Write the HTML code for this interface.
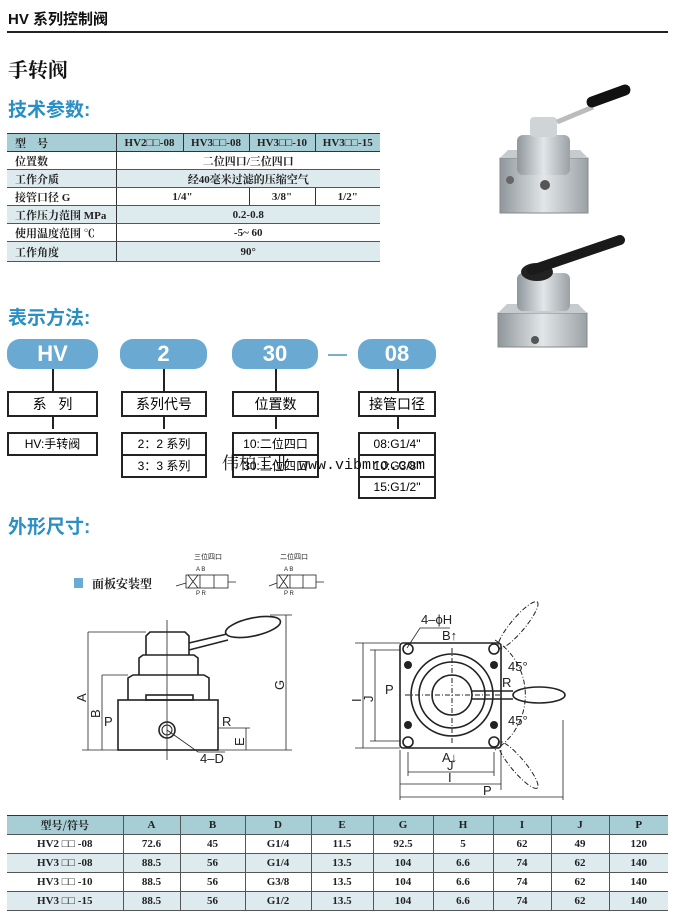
<!DOCTYPE html>
<html><head><meta charset="utf-8"><style>
body{margin:0;width:676px;height:919px;background:#fff;position:relative;overflow:hidden;font-family:"Liberation Sans","Noto Sans CJK SC",sans-serif;}
.a{position:absolute;}
table{border-collapse:collapse;position:absolute;font-family:"Liberation Serif","Noto Serif CJK SC",serif;font-weight:bold;font-size:11px;color:#222;}
td{padding:0;text-align:center;}
.t1 td{border-left:1px solid #333;height:17px;border-bottom:1px solid #555;}
.t1 td:first-child{border-left:none;text-align:left;padding-left:8px;}
.hd td{background:#a7cdd5;border-top:1px solid #333;border-bottom:1px solid #333;}
.sh td{background:#deebee;}
.pill{position:absolute;background:#6aa9d1;border-radius:13px;color:#fff;font-weight:bold;font-size:22px;text-align:center;line-height:30px;height:30px;}
.bx{position:absolute;border:2px solid #222;background:#fff;text-align:center;font-size:14px;box-sizing:border-box;}
.vl{position:absolute;width:1.5px;background:#222;}
.t2 td{border-left:1px solid #555;height:18px;border-bottom:1px solid #555;}
.t2 td:first-child{border-left:none;}
</style></head><body>
<div class="a" style="left:8px;top:8px;font-size:15px;font-weight:bold;color:#111;">HV 系列控制阀</div>
<div class="a" style="left:7px;top:31px;width:661px;height:1.5px;background:#222;"></div>
<div class="a" style="left:8px;top:54px;font-size:20px;font-weight:bold;font-family:'Noto Serif CJK SC',serif;color:#111;">手转阀</div>
<div class="a" style="left:8px;top:95px;font-size:19px;font-weight:bold;color:#2a8fc4;">技术参数:</div>

<table class="t1" style="left:7px;top:133px;width:373px;">
<colgroup><col style="width:109px"><col style="width:67px"><col style="width:66px"><col style="width:66px"><col style="width:65px"></colgroup>
<tr class="hd"><td>型&nbsp;&nbsp;&nbsp;&nbsp;号</td><td>HV2□□-08</td><td>HV3□□-08</td><td>HV3□□-10</td><td>HV3□□-15</td></tr>
<tr><td>位置数</td><td colspan="4">二位四口/三位四口</td></tr>
<tr class="sh"><td>工作介质</td><td colspan="4">经40毫米过滤的压缩空气</td></tr>
<tr><td>接管口径 G</td><td colspan="2">1/4"</td><td>3/8"</td><td>1/2"</td></tr>
<tr class="sh"><td>工作压力范围 MPa</td><td colspan="4">0.2-0.8</td></tr>
<tr><td>使用温度范围 ℃</td><td colspan="4">-5~ 60</td></tr>
<tr class="sh"><td style="height:19px">工作角度</td><td colspan="4">90°</td></tr>
</table>

<svg class="a" style="left:470px;top:80px" width="180" height="270">
<defs><linearGradient id="m" x1="0" x2="1"><stop offset="0" stop-color="#8f979c"/><stop offset=".5" stop-color="#e2e6e8"/><stop offset="1" stop-color="#9aa1a5"/></linearGradient></defs>
<polygon points="30,78 118,78 118,133 30,133" fill="url(#m)" stroke="#888"/>
<polygon points="30,78 118,78 110,70 38,70" fill="#c6cbce"/>
<rect x="47" y="55" width="53" height="40" rx="6" fill="url(#m)"/>
<rect x="60" y="37" width="27" height="20" rx="4" fill="#cfd4d6"/>
<line x1="87" y1="42" x2="123" y2="27" stroke="#bbb" stroke-width="5"/>
<line x1="122" y1="22" x2="155" y2="10" stroke="#111" stroke-width="11" stroke-linecap="round"/>
<circle cx="75" cy="105" r="5" fill="#555"/><circle cx="40" cy="100" r="4" fill="#666"/>
<polygon points="28,233 117,233 117,267 28,267" fill="url(#m)" stroke="#888"/>
<polygon points="28,233 117,233 108,224 37,224" fill="#c6cbce"/>
<rect x="47" y="193" width="53" height="38" rx="6" fill="url(#m)"/>
<ellipse cx="67" cy="192" rx="16" ry="9" fill="#222"/>
<line x1="62" y1="190" x2="150" y2="160" stroke="#1a1a1a" stroke-width="10" stroke-linecap="round"/>
<circle cx="65" cy="260" r="4" fill="#555"/>
</svg>

<div class="a" style="left:8px;top:303px;font-size:19px;font-weight:bold;color:#2a8fc4;">表示方法:</div>
<div class="pill" style="left:7px;top:339px;width:91px;">HV</div>
<div class="pill" style="left:120px;top:339px;width:87px;">2</div>
<div class="pill" style="left:232px;top:339px;width:86px;">30</div>
<div class="a" style="left:328px;top:354px;width:19px;height:1.5px;background:#7aaed0;"></div>
<div class="pill" style="left:358px;top:339px;width:78px;">08</div>
<div class="vl" style="left:52px;top:369px;height:60px;"></div>
<div class="vl" style="left:163px;top:369px;height:60px;"></div>
<div class="vl" style="left:275px;top:369px;height:60px;"></div>
<div class="vl" style="left:397px;top:369px;height:60px;"></div>
<div class="bx" style="left:7px;top:391px;width:91px;height:26px;line-height:22px;">系&nbsp;&nbsp;&nbsp;列</div>
<div class="bx" style="left:121px;top:391px;width:86px;height:26px;line-height:22px;">系列代号</div>
<div class="bx" style="left:232px;top:391px;width:87px;height:26px;line-height:22px;">位置数</div>
<div class="bx" style="left:358px;top:391px;width:78px;height:26px;line-height:22px;">接管口径</div>
<div class="bx" style="left:7px;top:432px;width:91px;height:24px;line-height:20px;font-size:12px;">HV:手转阀</div>
<div class="bx" style="left:121px;top:432px;width:86px;height:24px;line-height:20px;font-size:12px;">2：2 系列</div>
<div class="bx" style="left:121px;top:454px;width:86px;height:24px;line-height:20px;font-size:12px;">3：3 系列</div>
<div class="bx" style="left:232px;top:432px;width:87px;height:24px;line-height:20px;font-size:12px;">10:二位四口</div>
<div class="bx" style="left:232px;top:454px;width:87px;height:24px;line-height:20px;font-size:12px;">30:三位四口</div>
<div class="bx" style="left:358px;top:432px;width:78px;height:24px;line-height:20px;font-size:12px;">08:G1/4"</div>
<div class="bx" style="left:358px;top:454px;width:78px;height:24px;line-height:20px;font-size:12px;">10:G3/8"</div>
<div class="bx" style="left:358px;top:476px;width:78px;height:23px;line-height:19px;font-size:12px;">15:G1/2"</div>
<div class="a" style="left:222px;top:449px;font-size:17px;font-family:'Noto Serif CJK SC',serif;color:#111;">伟柏工业<span style="font-family:'Liberation Mono',monospace;font-size:15px;"> www.vibmro.com</span></div>

<div class="a" style="left:8px;top:512px;font-size:19px;font-weight:bold;color:#2a8fc4;">外形尺寸:</div>

<svg class="a" style="left:0;top:540px" width="676" height="270" font-family="Liberation Sans" stroke="#222" fill="none">
<g transform="translate(0,-540)">
<rect x="74" y="578" width="9" height="10" fill="#6aaad4" stroke="none"/>
<text x="92" y="588" font-size="12" font-weight="bold" fill="#222" stroke="none" font-family="Noto Serif CJK SC">面板安装型</text>
<text x="194" y="559" font-size="7" fill="#222" stroke="none" font-family="Noto Sans CJK SC">三位四口</text>
<text x="280" y="559" font-size="7" fill="#222" stroke="none" font-family="Noto Sans CJK SC">二位四口</text>
<g stroke-width="0.8"><rect x="186" y="575" width="42" height="13"/><line x1="200" y1="575" x2="200" y2="588"/><line x1="214" y1="575" x2="214" y2="588"/><path d="M188,575 L198,588 M198,575 L188,588 M176,586 L186,583 M228,582 L236,582"/>
<rect x="277" y="575" width="39" height="13"/><line x1="290" y1="575" x2="290" y2="588"/><line x1="303" y1="575" x2="303" y2="588"/><path d="M279,575 L288,588 M288,575 L279,588 M269,586 L277,583 M316,582 L324,582"/></g>
<text x="196" y="571" font-size="6" fill="#222" stroke="none">A B</text><text x="196" y="595" font-size="6" fill="#222" stroke="none">P R</text>
<text x="284" y="571" font-size="6" fill="#222" stroke="none">A B</text><text x="284" y="595" font-size="6" fill="#222" stroke="none">P R</text>

<g stroke-width="1.6">
<rect x="118" y="700" width="100" height="50"/>
<path d="M128,700 L128,678 L133,675 L204,675 L209,678 L209,700"/>
<path d="M139,675 L139,658 L143,655 L194,655 L198,658 L198,675"/>
<path d="M146,655 L146,636 L150,632 L185,632 L189,636 L189,655"/>
<rect x="146" y="695" width="47" height="5"/>
<circle cx="167" cy="730" r="8"/><circle cx="167" cy="730" r="5" stroke-width="1"/>
<path d="M189,643 L227,634 M189,650 L228,640"/>
<ellipse cx="253" cy="627" rx="28" ry="9" transform="rotate(-12 253 627)"/>
</g>
<g stroke-width="0.8">
<path d="M88,632 L146,632 M88,632 L88,750 M102,675 L102,750 M102,675 L128,675 M82,750 L292,750 M286,615 L286,750 M270,615 L292,615 M246,728 L246,750 M218,728 L250,728 M167,730 L198,752 L225,752 M167,620 L167,760"/>
</g>
<g fill="#222" stroke="none" font-size="13">
<text x="86" y="702" transform="rotate(-90 86 702)">A</text>
<text x="100" y="718" transform="rotate(-90 100 718)">B</text>
<text x="284" y="690" transform="rotate(-90 284 690)">G</text>
<text x="244" y="746" transform="rotate(-90 244 746)">E</text>
<text x="104" y="726">P</text><text x="222" y="726">R</text><text x="200" y="763">4–D</text>
</g>

<g stroke-width="1.6">
<rect x="400" y="643" width="101" height="105" rx="3"/>
<circle cx="452" cy="695" r="41"/><circle cx="452" cy="695" r="33"/><circle cx="452" cy="695" r="20"/>
<circle cx="408" cy="649" r="5"/><circle cx="494" cy="649" r="5"/><circle cx="408" cy="742" r="5"/><circle cx="494" cy="742" r="5"/>
<path d="M472,691 L513,691 M472,699 L513,699"/>
<ellipse cx="539" cy="695" rx="26" ry="8"/>
</g>
<g fill="#222" stroke="none"><circle cx="408" cy="665" r="4"/><circle cx="494" cy="665" r="4"/><circle cx="408" cy="725" r="4"/><circle cx="494" cy="725" r="4"/></g>
<g stroke-width="1" stroke-dasharray="5,2,1,2">
<ellipse cx="518" cy="625" rx="30" ry="7" transform="rotate(-50 518 625)"/>
<ellipse cx="518" cy="765" rx="30" ry="7" transform="rotate(50 518 765)"/>
<path d="M495,640 A65,65 0 0 1 495,750"/>
<path d="M452,648 L452,745 M405,695 L500,695"/>
</g>
<g stroke-width="0.8">
<path d="M363,643 L363,748 M355,643 L400,643 M355,748 L400,748 M375,650 L375,741 M370,650 L400,650 M370,741 L400,741 M408,752 L408,776 M494,752 L494,776 M408,772 L494,772 M400,750 L400,800 M501,750 L501,790 M400,784 L501,784 M400,797 L563,797 M563,720 L563,800 M407,648 L420,628 L450,628"/>
</g>
<g fill="#222" stroke="none" font-size="13">
<text x="361" y="702" transform="rotate(-90 361 702)">I</text>
<text x="373" y="702" transform="rotate(-90 373 702)">J</text>
<text x="385" y="694">P</text><text x="421" y="624">4–ϕH</text><text x="442" y="640">B↑</text>
<text x="442" y="762">A↓</text><text x="447" y="770">J</text><text x="448" y="782">I</text><text x="483" y="795">P</text>
<text x="502" y="687">R</text><text x="508" y="671">45°</text><text x="508" y="725">45°</text>
</g>
</g></svg>

<table class="t2" style="left:7px;top:815px;width:661px;">
<colgroup><col style="width:116px"><col style="width:57px"><col style="width:65px"><col style="width:66px"><col style="width:62px"><col style="width:60px"><col style="width:60px"><col style="width:58px"><col style="width:58px"><col></colgroup>
<tr class="hd"><td style="font-family:'Noto Serif CJK SC',serif;">型号/符号</td><td>A</td><td>B</td><td>D</td><td>E</td><td>G</td><td>H</td><td>I</td><td>J</td><td>P</td></tr>
<tr><td>HV2 □□ -08</td><td>72.6</td><td>45</td><td>G1/4</td><td>11.5</td><td>92.5</td><td>5</td><td>62</td><td>49</td><td>120</td></tr>
<tr class="sh"><td>HV3 □□ -08</td><td>88.5</td><td>56</td><td>G1/4</td><td>13.5</td><td>104</td><td>6.6</td><td>74</td><td>62</td><td>140</td></tr>
<tr><td>HV3 □□ -10</td><td>88.5</td><td>56</td><td>G3/8</td><td>13.5</td><td>104</td><td>6.6</td><td>74</td><td>62</td><td>140</td></tr>
<tr class="sh"><td>HV3 □□ -15</td><td>88.5</td><td>56</td><td>G1/2</td><td>13.5</td><td>104</td><td>6.6</td><td>74</td><td>62</td><td>140</td></tr>
</table>
</body></html>
